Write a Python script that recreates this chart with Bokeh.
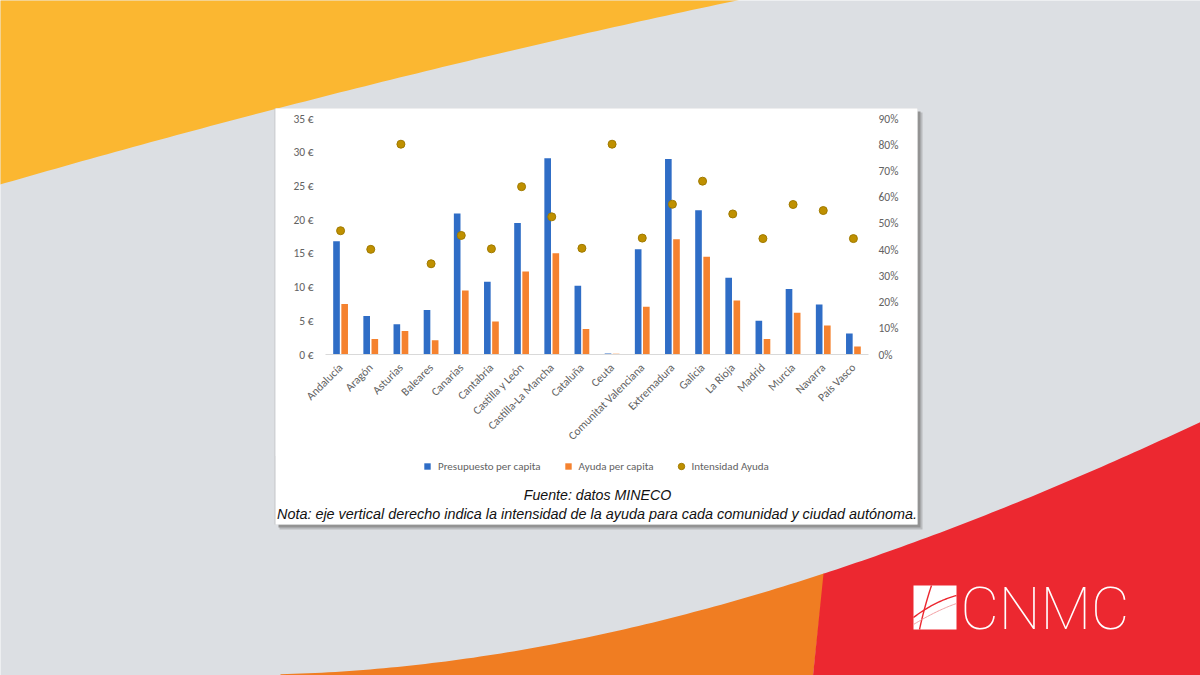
import math
import numpy as np
from bokeh.plotting import figure
from bokeh.layouts import column
from bokeh.models import (Range1d, LinearAxis, FixedTicker,
                          PrintfTickFormatter, NumeralTickFormatter, ColumnDataSource,
                          Legend, LegendItem, Label)
from bokeh.transform import dodge
from bokeh.embed import file_html
from bokeh.resources import INLINE

# ---------------- data ----------------
comunidades = ["Andalucía", "Aragón", "Asturias", "Baleares", "Canarias", "Cantabria",
               "Castilla y León", "Castilla-La Mancha", "Cataluña", "Ceuta",
               "Comunitat Valenciana", "Extremadura", "Galicia", "La Rioja", "Madrid",
               "Murcia", "Navarra", "País Vasco"]
presupuesto = [16.8, 5.7, 4.5, 6.6, 20.9, 10.8, 19.5, 29.1, 10.2, 0.15,
               15.6, 29.0, 21.4, 11.4, 5.0, 9.7, 7.4, 3.1]
ayuda = [7.5, 2.3, 3.5, 2.1, 9.5, 4.9, 12.3, 15.0, 3.8, 0.1,
         7.1, 17.1, 14.5, 8.0, 2.3, 6.2, 4.3, 1.2]
intensidad = [0.472, 0.401, 0.802, 0.346, 0.454, 0.403, 0.640, 0.525, 0.405, 0.802,
              0.444, 0.573, 0.661, 0.536, 0.442, 0.572, 0.549, 0.442]
eur_ticks = [0, 5, 10, 15, 20, 25, 30, 35]
pct_ticks = [0.0, 0.1, 0.2, 0.3, 0.4, 0.5, 0.6, 0.7, 0.8, 0.9]
legend_labels = ["Presupuesto per capita", "Ayuda per capita", "Intensidad Ayuda"]
fuente = "Fuente: datos MINECO"
nota = "Nota: eje vertical derecho indica la intensidad de la ayuda para cada comunidad y ciudad autónoma."

# ---------------- style ----------------
BLUE = "#2F6DC6"
ORANGE = "#F5822F"
GOLD = "#BF9000"
GRAY_BG = "#DCDFE3"
YELLOW = "#FBB731"
RED = "#EC2830"
ORANGE_BG = "#F07D22"
TXT = "#626262"
FONT = "Carlito, Lato, sans-serif"

W, H = 1200, 675
CL, CR, CT, CB = 275, 917, 108, 524          # white card
FL, FR, FT, FB = 325, 868, 118, 354          # chart plot area
CHART_BOTTOM = 456                           # bottom of the chart figure

# ================= background figure (pixel coordinates) =================
bg = figure(width=W, height=H, title=None,
            x_range=Range1d(0, W), y_range=Range1d(H, 0),
            x_axis_type=None, y_axis_type=None,
            min_border=0, min_border_left=0, min_border_right=0,
            min_border_top=0, min_border_bottom=0,
            output_backend="svg", toolbar_location=None)
bg.frame_align = False
bg.outline_line_color = None
bg.background_fill_color = GRAY_BG
bg.border_fill_color = GRAY_BG

# yellow swoosh
yx = [0, 153, 306, 510, 730]
yy = [185, 140, 98, 54, 0]
cy = np.polyfit(yx, yy, 2)
xs = np.linspace(-5, 760, 90)
bg.patch(list(xs) + [760, -5], list(np.polyval(cy, xs)) + [-5, -5],
         fill_color=YELLOW, line_color=None)

# orange / red swoosh
bx = [1200, 1100, 1000, 900, 821, 657, 514, 300]
by = [423, 463, 510, 548, 575, 618, 652, 673]
cb = np.polyfit(bx, by, 3)
xo = np.linspace(280, 824, 80)
bg.patch(list(xo) + [812, 280], list(np.polyval(cb, xo)) + [H + 5, H + 5],
         fill_color=ORANGE_BG, line_color=None)
xr = np.linspace(823, W + 5, 60)
bg.patch(list(xr) + [W + 5, 812], list(np.polyval(cb, xr)) + [H + 5, H + 5],
         fill_color=RED, line_color=None)

# card shadow + card
bg.quad(left=[CL + 4], right=[CR + 5], top=[CT + 4], bottom=[CB + 5],
        fill_color="#B9BBBE", line_color=None)
bg.quad(left=[CL + 3], right=[CR + 3], top=[CT + 3], bottom=[CB + 3],
        fill_color="#939393", line_color=None)
bg.quad(left=[CL - 1], right=[CR], top=[CT], bottom=[CB],
        fill_color="#C3C5C8", line_color=None)
bg.quad(left=[CL], right=[CR], top=[CT], bottom=[CB],
        fill_color="white", line_color=None)

# CNMC logo
bg.quad(left=[913], right=[956], top=[585], bottom=[629], fill_color="white", line_color=None)

def curve(p0, p1, p2):
    t = np.linspace(0, 1, 30)[:, None]
    a, b, c = map(np.array, (p0, p1, p2))
    pts = (1 - t) ** 2 * a + 2 * (1 - t) * t * b + t ** 2 * c
    return list(pts[:, 0]), list(pts[:, 1])

for (p0, p1, p2), lw, col in [(((931, 585), (924, 606), (919, 629)), 1.4, RED),
                              (((913, 617), (934, 601), (956, 595)), 1.4, RED),
                              (((913, 624), (936, 610), (956, 603)), 1.0, "#F3A0A3")]:
    cx, cyy = curve(p0, p1, p2)
    bg.line(cx, cyy, line_color=col, line_width=lw)

bg.add_layout(Label(x=960, y=608, text="CNMC",
                    text_font="Roboto Thin, Lato Hairline, Lato Light, Open Sans Light, sans-serif",
                    text_font_size="59px", text_color="white",
                    text_align="left", text_baseline="alphabetic"))

# legend proxies (single point placed outside the visible canvas)
lg_b = bg.scatter(x=[-100], y=[-100], marker="square", fill_color=BLUE, line_color=None)
lg_o = bg.scatter(x=[-100], y=[-100], marker="square", fill_color=ORANGE, line_color=None)
lg_d = bg.scatter(x=[-100], y=[-100], marker="circle", fill_color=GOLD, line_color="#A07A00")
legend = Legend(items=[LegendItem(label=legend_labels[0], renderers=[lg_b]),
                       LegendItem(label=legend_labels[1], renderers=[lg_o]),
                       LegendItem(label=legend_labels[2], renderers=[lg_d])],
                orientation="horizontal", location=(419, H - 474),
                glyph_width=16, glyph_height=16, label_standoff=3, spacing=19,
                padding=0, margin=0, border_line_color=None, background_fill_alpha=0,
                label_text_font_size="11px", label_text_color=TXT, label_text_font=FONT)
bg.add_layout(legend, "center")

bg.add_layout(Label(x=597, y=494, text=fuente,
                    text_font="Liberation Sans", text_font_style="italic",
                    text_font_size="14.2px", text_align="center", text_baseline="middle",
                    text_color="#111111"))
bg.add_layout(Label(x=596.5, y=513, text=nota,
                    text_font="Liberation Sans", text_font_style="italic",
                    text_font_size="14.4px", text_align="center", text_baseline="middle",
                    text_color="#111111"))

# ================= chart figure (overlaid on the card) =================
xpos = [i + 0.5 for i in range(len(comunidades))]
p = figure(width=CR - CL, height=CHART_BOTTOM - CT, title=None,
           x_range=Range1d(0, len(comunidades)), y_range=Range1d(0, 35),
           output_backend="svg", toolbar_location=None,
           min_border_left=FL - CL, min_border_right=CR - FR,
           min_border_top=FT - CT, min_border_bottom=CHART_BOTTOM - FB)
p.frame_align = False
p.background_fill_color = "white"
p.border_fill_color = "white"
p.outline_line_color = None
p.xgrid.visible = False
p.ygrid.visible = False
p.extra_y_ranges = {"pct": Range1d(0, 0.9)}

src = ColumnDataSource(dict(x=xpos, cat=comunidades, pres=presupuesto, ayu=ayuda, inten=intensidad))
p.vbar(x=dodge("x", -0.135), top="pres", width=0.22, source=src,
       fill_color=BLUE, line_color=None)
p.vbar(x=dodge("x", 0.135), top="ayu", width=0.22, source=src,
       fill_color=ORANGE, line_color=None)
p.scatter(x="x", y="inten", y_range_name="pct", source=src, size=8,
          fill_color=GOLD, line_color="#A07A00", line_width=1)

p.yaxis.ticker = FixedTicker(ticks=eur_ticks)
p.yaxis.formatter = PrintfTickFormatter(format="%d €")
ax_r = LinearAxis(y_range_name="pct", ticker=FixedTicker(ticks=pct_ticks),
                  formatter=NumeralTickFormatter(format="0%"))
p.add_layout(ax_r, "right")
for ax in (p.yaxis[0], ax_r):
    ax.axis_line_color = None
    ax.major_tick_line_color = None
    ax.minor_tick_line_color = None
    ax.major_label_text_font_size = "11.5px"
    ax.major_label_text_color = TXT
    ax.major_label_text_font = FONT
p.yaxis[0].major_label_standoff = 6
ax_r.major_label_standoff = 4
xa = p.xaxis[0]
xa.ticker = FixedTicker(ticks=xpos)
xa.major_label_overrides = {x: c for x, c in zip(xpos, comunidades)}
xa.axis_line_color = "#D9D9D9"
xa.major_tick_line_color = None
xa.minor_tick_line_color = None
xa.major_label_orientation = math.pi / 4
xa.major_label_text_font_size = "11.5px"
xa.major_label_text_color = TXT
xa.major_label_text_font = FONT
xa.major_label_standoff = 5

# place the chart over the card: negative top margin overlaps the background
p.margin = (-(H - CT), 0, 0, CL)

layout = column(bg, p, spacing=0)
open("out.html", "w").write(file_html(layout, INLINE))
